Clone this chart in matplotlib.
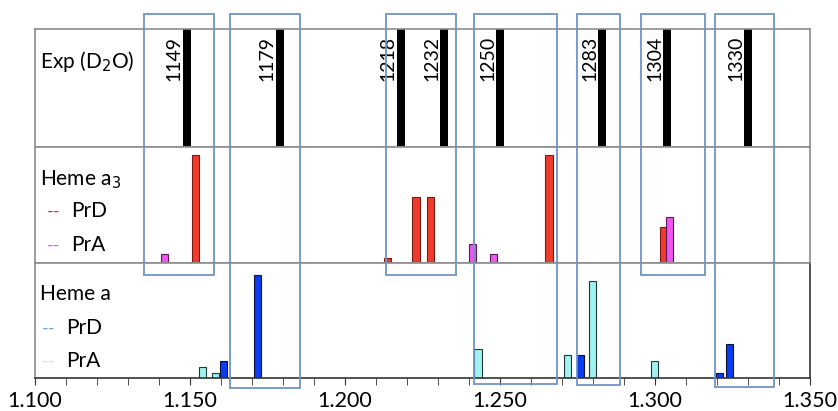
import matplotlib
matplotlib.use("Agg")
import matplotlib.pyplot as plt
import matplotlib.patches as mpatches
import matplotlib.transforms as mtransforms
from matplotlib.ticker import MultipleLocator

plt.rcParams["font.family"] = ["Lato", "DejaVu Sans"]

# --- données ---
exp_pos = [1.149, 1.179, 1.218, 1.232, 1.250, 1.283, 1.304, 1.330]
exp_lab = ["1149", "1179", "1218", "1232", "1250", "1283", "1304", "1330"]

a3_prd_x = [1.1518, 1.2138, 1.2229, 1.2277, 1.2658, 1.3027]
a3_prd_y = [100, 4.5, 61, 61, 100, 33]
a3_pra_x = [1.1419, 1.2410, 1.2479, 1.3048]
a3_pra_y = [8, 18, 8, 43]

a_prd_x = [1.1609, 1.1719, 1.2761, 1.3209, 1.3240]
a_prd_y = [17, 100, 22.5, 5, 33]
a_pra_x = [1.1539, 1.1581, 1.2429, 1.2718, 1.2798, 1.2999]
a_pra_y = [11, 5, 28, 22.5, 94.5, 17]

# cadres bleus : (x gauche, x droite, bas en pixels)
boites_x0 = [1.1352, 1.1629, 1.2132, 1.2416, 1.2748, 1.2955, 1.3194]
boites_x1 = [1.1577, 1.1855, 1.2358, 1.2684, 1.2887, 1.3161, 1.3384]
boites_bas = [275, 388, 275, 384, 385, 275, 387]

W, H = 838, 411
fig = plt.figure(figsize=(W / 100, H / 100), dpi=100)

def px_axes(top, bottom):
    return fig.add_axes([35 / W, 1 - bottom / H, 775 / W, (bottom - top) / H])

ax_exp = px_axes(29, 147)
ax_a3 = px_axes(147, 263)
ax_a = px_axes(263, 378)

gris = "#8c8c8c"
for ax in (ax_exp, ax_a3, ax_a):
    ax.set_xlim(1.100, 1.350)
    ax.set_yticks([])
    for s in ax.spines.values():
        s.set_color(gris)
        s.set_linewidth(1.2)
for ax in (ax_exp, ax_a3):
    ax.set_xticks([])

# (1) spectre expérimental
ax_exp.bar(exp_pos, [1] * len(exp_pos), width=0.0026, color="black")
ax_exp.set_ylim(0, 1)
for x, lab in zip(exp_pos, exp_lab):
    ax_exp.text(x - 0.0013, 0.94, lab, rotation=90, ha="right", va="top", fontsize=14)

# (2) heme a3
ax_a3.bar(a3_prd_x, a3_prd_y, width=0.0023, color="#ee3b2e", edgecolor="#7a1a12", linewidth=0.8)
ax_a3.bar(a3_pra_x, a3_pra_y, width=0.0023, color="#f055f0", edgecolor="#5a1a5a", linewidth=0.8)
ax_a3.set_ylim(0, 107.4)

# (3) heme a
ax_a.bar(a_prd_x, a_prd_y, width=0.0023, color="#0a3cf0", edgecolor="#0a1040", linewidth=0.8)
ax_a.bar(a_pra_x, a_pra_y, width=0.0023, color="#9ff2ee", edgecolor="#203838", linewidth=0.8)
ax_a.set_ylim(0, 112)
ax_a.spines["bottom"].set_color("#333333")
ax_a.spines["right"].set_color("#333333")
ax_a.xaxis.set_major_locator(MultipleLocator(0.05))
ax_a.xaxis.set_minor_locator(MultipleLocator(0.01))
ax_a.xaxis.set_major_formatter(lambda v, p: f"{v:.3f}")
ax_a.tick_params(axis="x", which="both", direction="out", length=5, color="#333333", labelsize=15.5, pad=4)

# textes de légende (coordonnées en pixels)
def txt(x, y, s, **kw):
    fig.text(x / W, 1 - y / H, s, va="baseline", **kw)

txt(40, 68, "Exp (D$_2$O)", fontsize=15)
txt(40, 185, "Heme a$_3$", fontsize=15)
txt(47, 217, "--", color="#ff2020", fontsize=13)
txt(71, 217, "PrD", fontsize=15)
txt(47, 251, "--", color="#ff40ff", fontsize=13)
txt(71, 251, "PrA", fontsize=15)
txt(40, 300, "Heme a", fontsize=15)
txt(42, 334, "--", color="#6fa8e0", fontsize=13)
txt(66, 334, "PrD", fontsize=15)
txt(42, 367, "--", color="#b5e8ee", fontsize=13)
txt(66, 367, "PrA", fontsize=15)

# cadres bleus
trans = mtransforms.blended_transform_factory(ax_a.transData, fig.transFigure)
for x0, x1, bas in zip(boites_x0, boites_x1, boites_bas):
    y0 = 1 - bas / H
    y1 = 1 - 14 / H
    r = mpatches.Rectangle((x0, y0), x1 - x0, y1 - y0, transform=trans, fill=False,
                           edgecolor="#6f94c8", linewidth=1.3, clip_on=False, zorder=5)
    fig.add_artist(r)

plt.savefig("out.png", dpi=100)
